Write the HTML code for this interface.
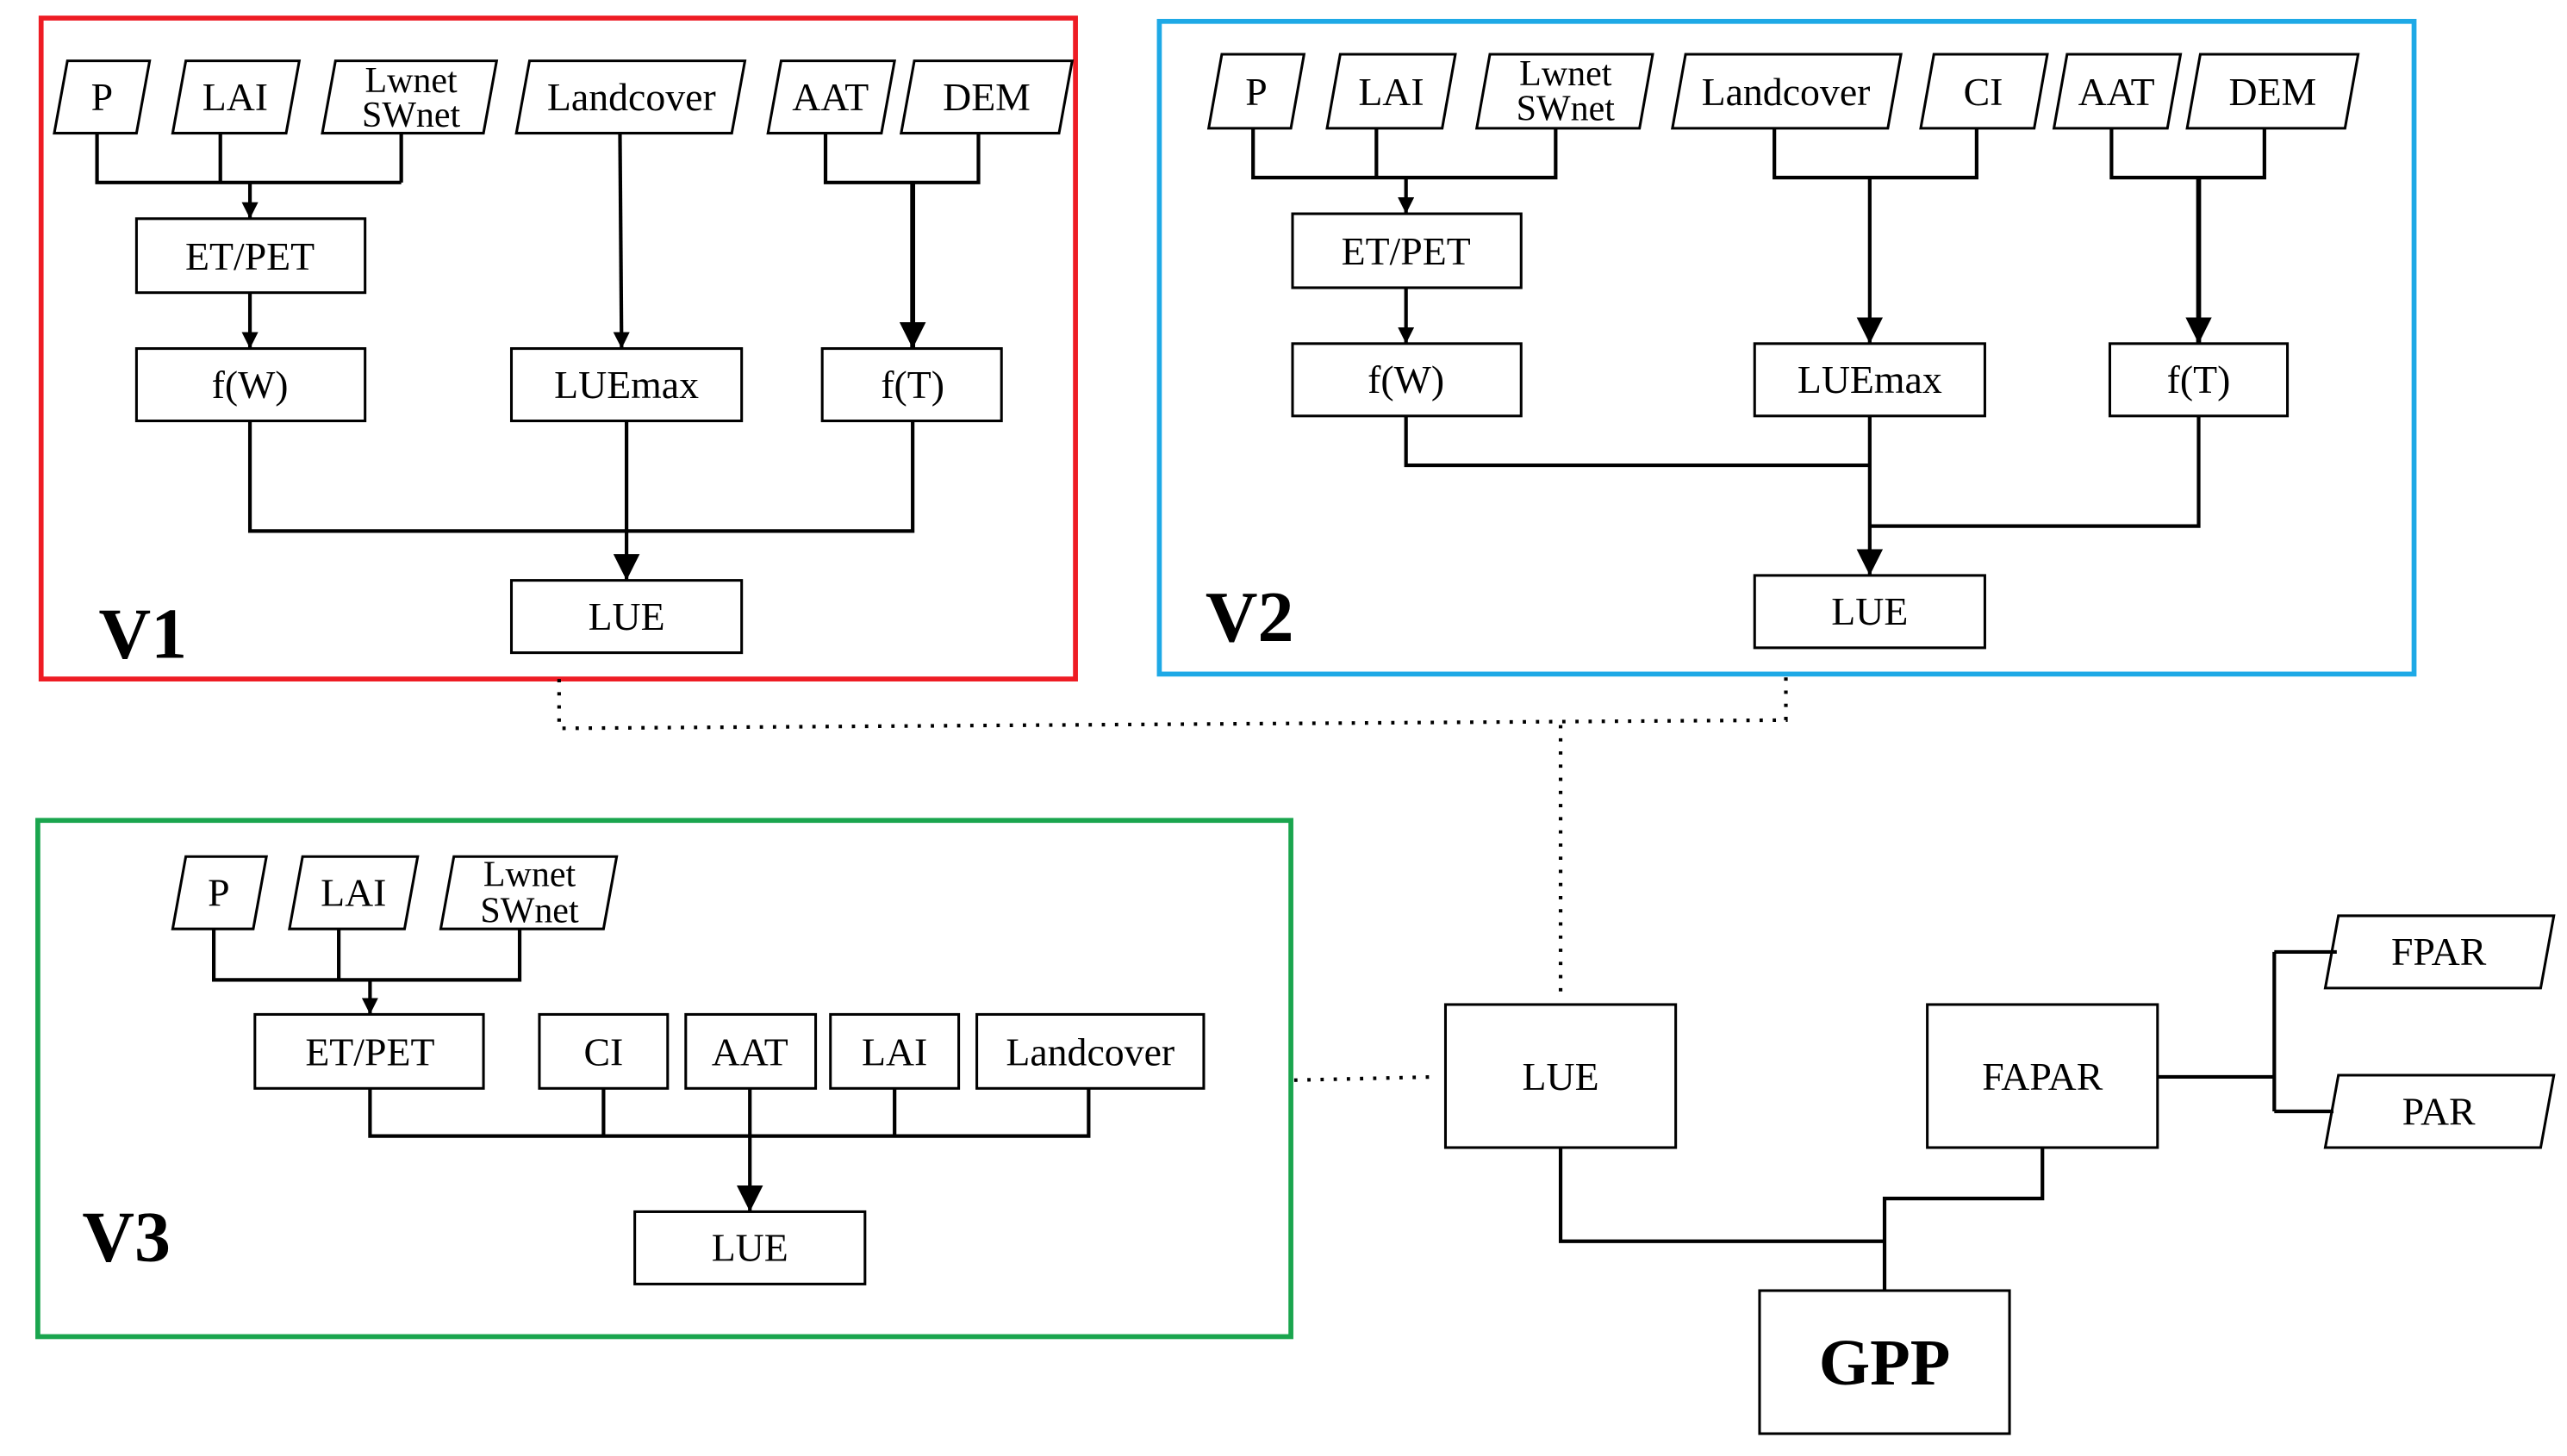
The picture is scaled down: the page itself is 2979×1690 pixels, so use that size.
<!DOCTYPE html>
<html><head><meta charset="utf-8"><style>
html,body{margin:0;padding:0;background:#fff;}
svg{display:block}
text{font-family:"Liberation Serif",serif;fill:#000;}
</style></head><body>
<svg width="2979" height="1690" viewBox="0 0 1561 885.6" preserveAspectRatio="none" xmlns="http://www.w3.org/2000/svg">
<defs>
<marker id="a" markerWidth="10" markerHeight="10" refX="10" refY="5" orient="auto" markerUnits="userSpaceOnUse" viewBox="0 0 10 10">
<path d="M0,0 L10,5 L0,10 Z" fill="#000"/></marker>
<marker id="b" markerWidth="16" markerHeight="16" refX="16" refY="8" orient="auto" markerUnits="userSpaceOnUse" viewBox="0 0 16 16">
<path d="M0,0 L16,8 L0,16 Z" fill="#000"/></marker>
</defs>
<g fill="none" stroke-width="3">
<rect x="25" y="11" width="629" height="402" stroke="#ee1c24"/>
<rect x="705" y="13" width="763" height="397" stroke="#1ea9e6"/>
<rect x="23" y="499" width="762" height="314" stroke="#1aa54e"/>
</g>
<g fill="#fff" stroke="#000" stroke-width="1.6">
<polygon points="41,37 91,37 83,81 33,81"/>
<polygon points="113,37 182,37 174,81 105,81"/>
<polygon points="204,37 302,37 294,81 196,81"/>
<polygon points="322,37 453,37 445,81 314,81"/>
<polygon points="475,37 544,37 536,81 467,81"/>
<polygon points="556,37 652,37 644,81 548,81"/>
<rect x="83" y="133" width="139" height="45"/>
<rect x="83" y="212" width="139" height="44"/>
<rect x="311" y="212" width="140" height="44"/>
<rect x="500" y="212" width="109" height="44"/>
<rect x="311" y="353" width="140" height="44"/>
<polygon points="743,33 793,33 785,78 735,78"/>
<polygon points="815,33 885,33 877,78 807,78"/>
<polygon points="906,33 1005,33 997,78 898,78"/>
<polygon points="1025,33 1156,33 1148,78 1017,78"/>
<polygon points="1176,33 1245,33 1237,78 1168,78"/>
<polygon points="1257,33 1326,33 1318,78 1249,78"/>
<polygon points="1338,33 1434,33 1426,78 1330,78"/>
<rect x="786" y="130" width="139" height="45"/>
<rect x="786" y="209" width="139" height="44"/>
<rect x="1067" y="209" width="140" height="44"/>
<rect x="1283" y="209" width="108" height="44"/>
<rect x="1067" y="350" width="140" height="44"/>
<polygon points="113,521 162,521 154,565 105,565"/>
<polygon points="184,521 254,521 246,565 176,565"/>
<polygon points="276,521 375,521 367,565 268,565"/>
<rect x="155" y="617" width="139" height="45"/>
<rect x="328" y="617" width="78" height="45"/>
<rect x="417" y="617" width="79" height="45"/>
<rect x="505" y="617" width="78" height="45"/>
<rect x="594" y="617" width="138" height="45"/>
<rect x="386" y="737" width="140" height="44"/>
<rect x="879" y="611" width="140" height="87"/>
<rect x="1172" y="611" width="140" height="87"/>
<rect x="1070" y="785" width="152" height="87"/>
<polygon points="1422,557 1553,557 1545,601 1414,601"/>
<polygon points="1422,654 1553,654 1545,698 1414,698"/>
</g>
<g fill="none" stroke="#000" stroke-width="2.2">
<path d="M59,81V111H244M134,81V111M244,81V111"/>
<path d="M152,111V133" marker-end="url(#a)"/>
<path d="M152,178V212" marker-end="url(#a)"/>
<path d="M377,81 L378,212" marker-end="url(#a)"/>
<path d="M502,81V111H595V81"/>
<path d="M555,111V212" stroke-width="3" marker-end="url(#b)"/>
<path d="M152,256V323H555V256"/>
<path d="M381,256V353" marker-end="url(#b)"/>
<path d="M762,78V108H946V78M837,78V108"/>
<path d="M855,108V130" marker-end="url(#a)"/>
<path d="M855,175V209" marker-end="url(#a)"/>
<path d="M1079,78V108H1202V78"/>
<path d="M1137,108V209" marker-end="url(#b)"/>
<path d="M1284,78V108H1377V78"/>
<path d="M1337,108V209" stroke-width="3" marker-end="url(#b)"/>
<path d="M855,253V283H1137M1337,253V320H1137"/>
<path d="M1137,253V350" marker-end="url(#b)"/>
<path d="M130,565V596H316V565M206,565V596"/>
<path d="M225,596V617" marker-end="url(#a)"/>
<path d="M225,662V691H662V662M367,662V691M544,662V691"/>
<path d="M456,662V737" marker-end="url(#b)"/>
<path d="M949,698V755H1146M1242,698V729H1146V785"/>
<path d="M1312,655H1383M1383,579V676M1383,579H1421M1383,676H1419"/>
</g>
<g fill="none" stroke="#000" stroke-width="2.2" stroke-dasharray="2,6">
<path d="M340,413V443L1086,438V410"/>
<path d="M949,441V605"/>
<path d="M787,657L873,655"/>
</g>
<g font-size="24" text-anchor="middle">
<text x="62" y="67">P</text><text x="143" y="67">LAI</text>
<text x="384" y="67">Landcover</text><text x="505" y="67">AAT</text><text x="600" y="67">DEM</text>
<text x="152" y="164">ET/PET</text><text x="152" y="242">f(W)</text><text x="381" y="242">LUEmax</text>
<text x="555" y="242">f(T)</text><text x="381" y="383">LUE</text>
<text x="764" y="64">P</text><text x="846" y="64">LAI</text>
<text x="1086" y="64">Landcover</text><text x="1206" y="64">CI</text><text x="1287" y="64">AAT</text><text x="1382" y="64">DEM</text>
<text x="855" y="161">ET/PET</text><text x="855" y="239">f(W)</text><text x="1137" y="239">LUEmax</text>
<text x="1337" y="239">f(T)</text><text x="1137" y="380">LUE</text>
<text x="133" y="551">P</text><text x="215" y="551">LAI</text>
<text x="225" y="648">ET/PET</text><text x="367" y="648">CI</text><text x="456" y="648">AAT</text>
<text x="544" y="648">LAI</text><text x="663" y="648">Landcover</text><text x="456" y="767">LUE</text>
<text x="949" y="663">LUE</text><text x="1242" y="663">FAPAR</text>
<text x="1483" y="587">FPAR</text><text x="1483" y="684">PAR</text>
</g>
<g font-size="22" text-anchor="middle">
<text x="250" y="56">Lwnet</text><text x="250" y="77">SWnet</text>
<text x="952" y="52">Lwnet</text><text x="952" y="73">SWnet</text>
<text x="322" y="539">Lwnet</text><text x="322" y="561">SWnet</text>
</g>
<g font-size="44" font-weight="bold">
<text x="60" y="400">V1</text><text x="733" y="390">V2</text><text x="50" y="767">V3</text>
</g>
<text x="1146" y="842" font-size="40" font-weight="bold" text-anchor="middle">GPP</text>
</svg>
</body></html>
